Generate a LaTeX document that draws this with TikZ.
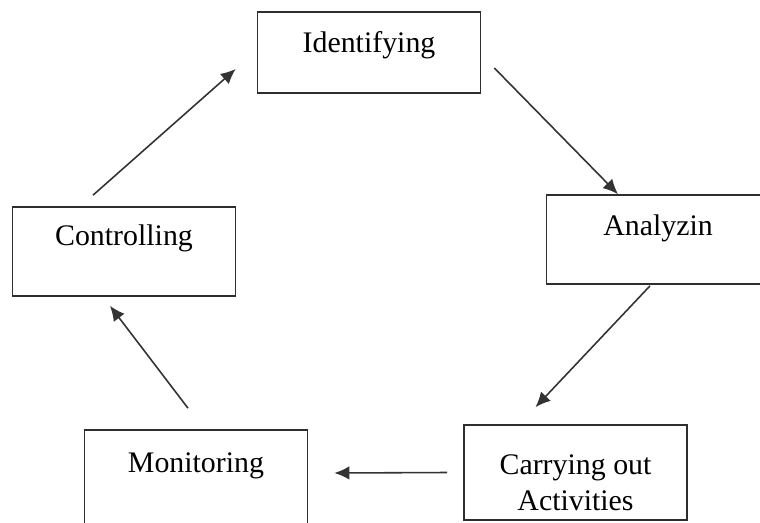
\documentclass[tikz,border=0pt]{standalone}
\usepackage{fontspec}
\setmainfont{Liberation Serif}
\usetikzlibrary{arrows.meta,calc}
\definecolor{edgegray}{HTML}{2E2E2E}
\definecolor{arrowgray}{HTML}{333333}

\begin{document}
\begin{tikzpicture}[x=0.02cm,y=0.02cm,
 stagebox/.style={draw=edgegray,line width=0.95pt,minimum width=4.46cm,inner xsep=0pt,inner ysep=0pt,align=center,font=\fontsize{17}{20}\selectfont},
 a/.style={-{Latex[length=0.3cm,width=0.27cm]},line width=0.9pt,arrowgray}]
\useasboundingbox (0,0) rectangle (760,522);
\node[stagebox,text height=0.80cm,text depth=0.82cm] (ident) at (369,469.5) {Identifying};
\node[stagebox,text height=0.80cm,text depth=0.98cm] (analyz) at (658,282.5) {Analyzin};
\node[stagebox,text height=1.70cm,text depth=0.20cm] (carry) at (575.5,49.5) {Carrying out\\Activities};
\node[stagebox,text height=0.84cm,text depth=1.06cm] (monit) at (196,44.5) {Monitoring};
\node[stagebox,text height=0.76cm,text depth=1.02cm] (ctrl) at (124,270.5) {Controlling};
\draw[a] ($(ident.east)+(13,-15.5)$)--($(analyz.north)+(-40,0)$);
\draw[a] ($(analyz.south)+(-8,-1)$)--($(carry.north)+(-40,17)$);
\draw[a] ($(carry.west)+(-16,0)$)--($(monit.east)+(26,4.5)$);
\draw[a] ($(monit.north)+(-8,21)$)--($(ctrl.south)+(-14,-9)$);
\draw[a] ($(ctrl.north)+(-31,11)$)--($(ident.west)+(-21,-16.5)$);
\end{tikzpicture}
\end{document}
